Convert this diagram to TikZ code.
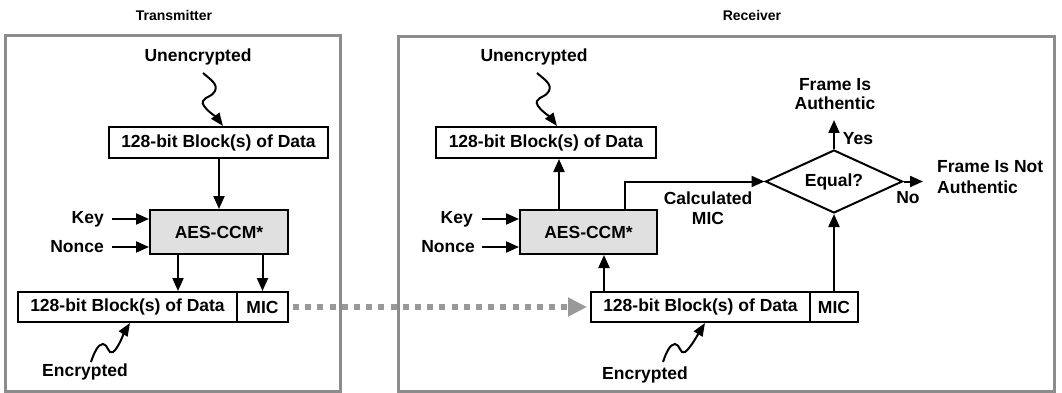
\documentclass[tikz,border=0pt]{standalone}
\usepackage{fontspec}
\setmainfont{Liberation Sans}
\usetikzlibrary{arrows.meta,shapes.geometric}

\begin{document}
\begin{tikzpicture}[x=1pt,y=-1pt,
  txt/.style={font=\fontsize{17.5}{18.5}\selectfont\bfseries, inner sep=0pt},
  ttl/.style={font=\fontsize{14}{16}\selectfont\bfseries, inner sep=0pt},
  blockbox/.style={draw, line width=2pt, txt, minimum height=31pt},
  aesbox/.style={draw, line width=2pt, fill=black!12, txt, minimum width=138pt, minimum height=44pt},
  eqbox/.style={draw, diamond, aspect=2.17, line width=2pt, txt, minimum width=137pt, minimum height=63pt},
  panel/.style={draw=black!45, line width=3pt},
  arr/.style={line width=2pt, -{Triangle[length=13pt,width=11pt]}},
  squig/.style={line width=2pt, -{Triangle[length=13pt,width=10pt]}},
  dots/.style={color=black!40, line width=6pt, dash pattern=on 6pt off 6.2pt, shorten <=4pt, shorten >=3pt, -{Triangle[length=19pt,width=18pt]}}]
\useasboundingbox (0,0) rectangle (1062,393);

\node[ttl] (ttlTx) at (174,15) {Transmitter};
\node[ttl] (ttlRx) at (752,15) {Receiver};

\draw[panel] (5,36) rectangle (340,391);
\draw[panel] (398,37) rectangle (1054,391);

\node[txt] (unTx) at (198,57) {Unencrypted};
\node[blockbox, minimum width=219pt] (blkTx) at (218.5,142.5) {128-bit Block(s) of Data};
\node[aesbox] (aesTx) at (219,232) {AES-CCM*};
\node[txt, anchor=east] (keyTx) at (104,219) {Key};
\node[txt, anchor=east] (nonTx) at (104,247) {Nonce};
\node[blockbox, minimum width=219pt, minimum height=30pt] (encTx) at (127.5,307) {128-bit Block(s) of Data};
\node[blockbox, minimum width=51pt, minimum height=30pt] (micTx) at (262.5,307) {MIC};
\node[txt] (crTx) at (85,372) {Encrypted};
\coordinate (sqTxA) at (203,73);
\coordinate (sqTxB) at (91,362);

\draw[squig] (sqTxA) .. controls +(8,7) and +(3,-7) .. ++(12,18)
  .. controls +(-3,6) and +(3,-5) .. ++(-12,10)
  .. controls +(-3,5) and +(-6,-8) .. ([xshift=4.5pt]blkTx.north);
\draw[arr] (blkTx.south -| aesTx.north) -- (aesTx.north);
\draw[arr] ([xshift=8pt]keyTx.east) -- (keyTx.east -| aesTx.west);
\draw[arr] ([xshift=8pt]nonTx.east) -- (nonTx.east -| aesTx.west);
\draw[arr] ([xshift=-41pt]aesTx.south) -- ([xshift=50.5pt]encTx.north);
\draw[arr] (aesTx.south -| micTx.north) -- (micTx.north);
\draw[squig] (sqTxB) .. controls +(3,-9) and +(-5,0) .. ++(12,-18)
  .. controls +(5,0) and +(-5,3) .. ++(10,8)
  .. controls +(5,-3) and +(-5,8) .. ([xshift=2.5pt]encTx.south);

\node[txt] (unRx) at (534,57) {Unencrypted};
\node[blockbox, minimum width=220pt] (blkRx) at (546,142.5) {128-bit Block(s) of Data};
\node[aesbox, minimum width=137pt] (aesRx) at (588.5,232) {AES-CCM*};
\node[txt, anchor=east] (keyRx) at (473,219) {Key};
\node[txt, anchor=east] (nonRx) at (475,247) {Nonce};
\node[blockbox, minimum width=219pt, minimum height=30pt] (encRx) at (700.5,307) {128-bit Block(s) of Data};
\node[blockbox, minimum width=48pt, minimum height=30pt] (micRx) at (834,307) {MIC};
\node[txt] (crRx) at (645,375) {Encrypted};
\node[eqbox] (eqRx) at (834,181.5) {Equal?};
\node[txt, align=center] (calRx) at (708,208) {Calculated\\[1.5pt]MIC};
\node[txt, align=center] (authRx) at (835,94) {Frame Is\\Authentic};
\node[txt] (yesRx) at (858,139) {Yes};
\node[txt, anchor=west, align=left] (notRx) at (937,177) {Frame Is Not\\[3pt]Authentic};
\node[txt] (noRx) at (908,198) {No};
\coordinate (sqRxA) at (537,73);
\coordinate (sqRxB) at (663,362);
\coordinate (yesEnd) at (834,120);
\coordinate (noEnd) at (923,181.5);

\draw[squig] (sqRxA) .. controls +(8,7) and +(3,-7) .. ++(12,18)
  .. controls +(-3,6) and +(3,-5) .. ++(-12,10)
  .. controls +(-3,5) and +(-6,-8) .. ([xshift=11pt]blkRx.north);
\draw[arr] ([xshift=-29.5pt]aesRx.north) -- ([xshift=13pt]blkRx.south);
\draw[arr] ([xshift=7pt]keyRx.east -| nonRx.east) -- (keyRx.east -| aesRx.west);
\draw[arr] ([xshift=7pt]nonRx.east) -- (nonRx.east -| aesRx.west);
\draw[arr] ([xshift=-96.5pt]encRx.north) -- ([xshift=15.5pt]aesRx.south);
\draw[arr] ([xshift=36.5pt]aesRx.north) |- (eqRx.west);
\draw[arr] (micRx.north) -- (eqRx.south);
\draw[arr] (eqRx.north) -- (yesEnd);
\draw[arr] (eqRx.east) -- (noEnd);
\draw[squig] (sqRxB) .. controls +(3,-9) and +(-5,0) .. ++(12,-18)
  .. controls +(5,0) and +(-5,3) .. ++(10,8)
  .. controls +(5,-3) and +(-5,8) .. ([xshift=4.5pt]encRx.south);

\draw[dots] (micTx.east) -- (encRx.west);
\end{tikzpicture}
\end{document}
